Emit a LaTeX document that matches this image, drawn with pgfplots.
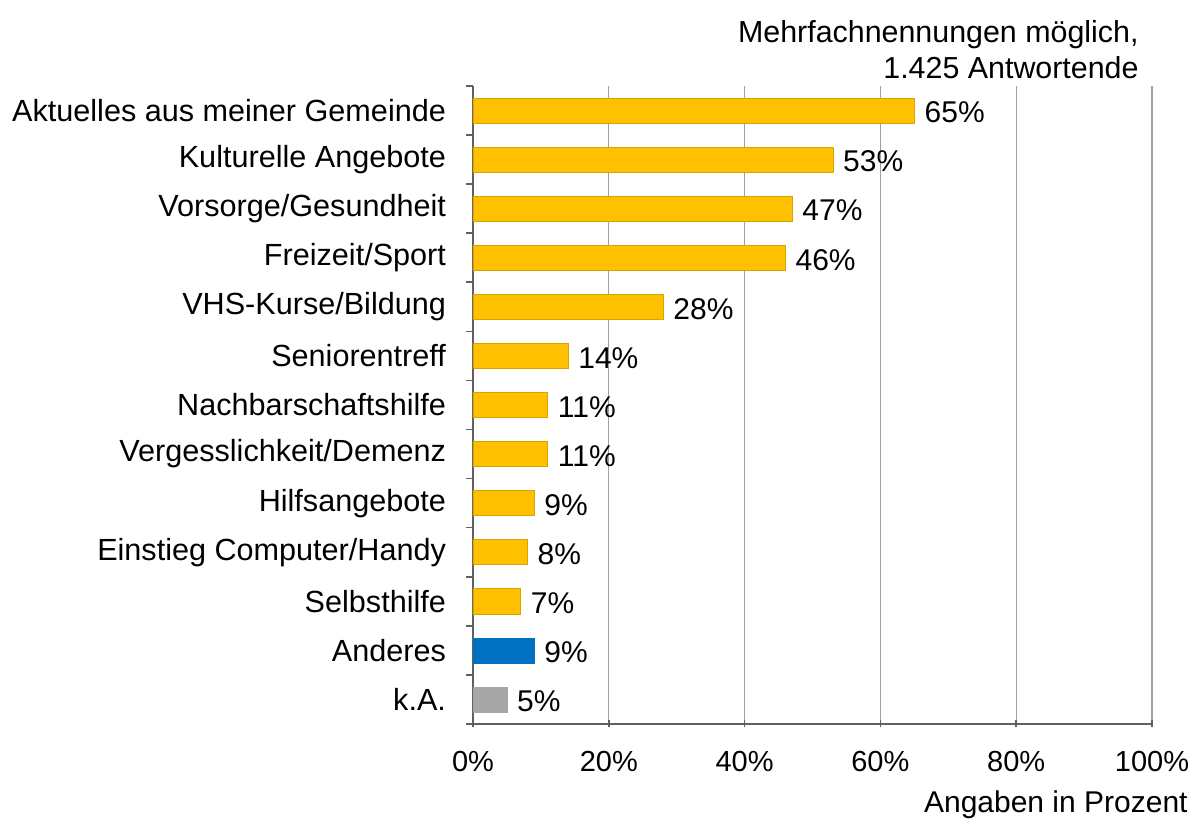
\documentclass[border=0pt]{standalone}
\usepackage{pgfplots}
\pgfplotsset{compat=1.18}
\usepackage{fontspec}
\setmainfont{Liberation Sans}
\definecolor{baryel}{HTML}{FFC000}
\definecolor{barblue}{HTML}{0070C0}
\definecolor{bargray}{HTML}{A6A6A6}
\definecolor{gridc}{HTML}{A0A0A0}
\definecolor{axc}{HTML}{606060}
\begin{document}
\begin{tikzpicture}[font=\fontsize{14.5pt}{17pt}\selectfont]
\begin{axis}[name=ax, at={(0,0)}, anchor=origin,
  scale only axis, width=339.5pt, height=319pt,
  xbar, bar shift=0pt, bar width=0.51,
  xmin=0, xmax=100, ymin=-0.5, ymax=12.5,
  axis x line*=bottom, axis y line*=left,
  axis line style={axc, line width=0.8pt, -},
  xtick={0,20,40,60,80,100},
  xticklabel={\pgfmathprintnumber{\tick}\%},
  /pgf/number format/assume math mode=true,
  xmajorgrids, grid style={gridc, line width=0.6pt},
  tick style={axc, line width=0.8pt},
  xtick align=center, ytick align=outside, major tick length=3.5pt,
  xticklabel style={yshift=-8.5pt},
  ytick={-0.5,0.5,...,12.5}, yticklabels={},
  extra y ticks={0,...,12},
  extra y tick labels={k.A., Anderes, Selbsthilfe, Einstieg Computer/Handy, Hilfsangebote, Vergesslichkeit/Demenz, Nachbarschaftshilfe, Seniorentreff, VHS-Kurse/Bildung, Freizeit/Sport, Vorsorge/Gesundheit, Kulturelle Angebote, Aktuelles aus meiner Gemeinde},
  extra y tick style={tick style={draw=none}, yticklabel style={xshift=-6.5pt, font=\fontsize{15.3pt}{18pt}\selectfont}},
  nodes near coords={\pgfmathprintnumber{\pgfplotspointmeta}\%},
  nodes near coords align={horizontal},
  every node near coord/.style={anchor=west, inner sep=1pt, xshift=4pt, yshift=-1pt, text=black, font=\fontsize{15pt}{18pt}\selectfont},
  clip=false,
]
\addplot[fill=baryel, draw=baryel!85!black, line width=0.3pt] coordinates {
(7,2) (8,3) (9,4) (11,5) (11,6) (14,7) (28,8) (46,9) (47,10) (53,11) (65,12)};
\addplot[fill=barblue, draw=barblue, line width=0.3pt] coordinates {(9,1)};
\addplot[fill=bargray, draw=bargray, line width=0.3pt] coordinates {(5,0)};
\end{axis}
\node[anchor=east, align=right, inner sep=0pt, font=\fontsize{15.2pt}{18pt}\selectfont] at ([shift={(333pt,337pt)}]ax.south west) {Mehrfachnennungen möglich,\\1.425 Antwortende};
\node[anchor=east, inner sep=0pt, font=\fontsize{15pt}{18pt}\selectfont] at ([shift={(357.5pt,-40.5pt)}]ax.south west) {Angaben in Prozent};
\pgfresetboundingbox
\path ([shift={(-236.5pt,-49pt)}]ax.south west) rectangle ++(600pt,411pt);
\end{tikzpicture}
\end{document}
